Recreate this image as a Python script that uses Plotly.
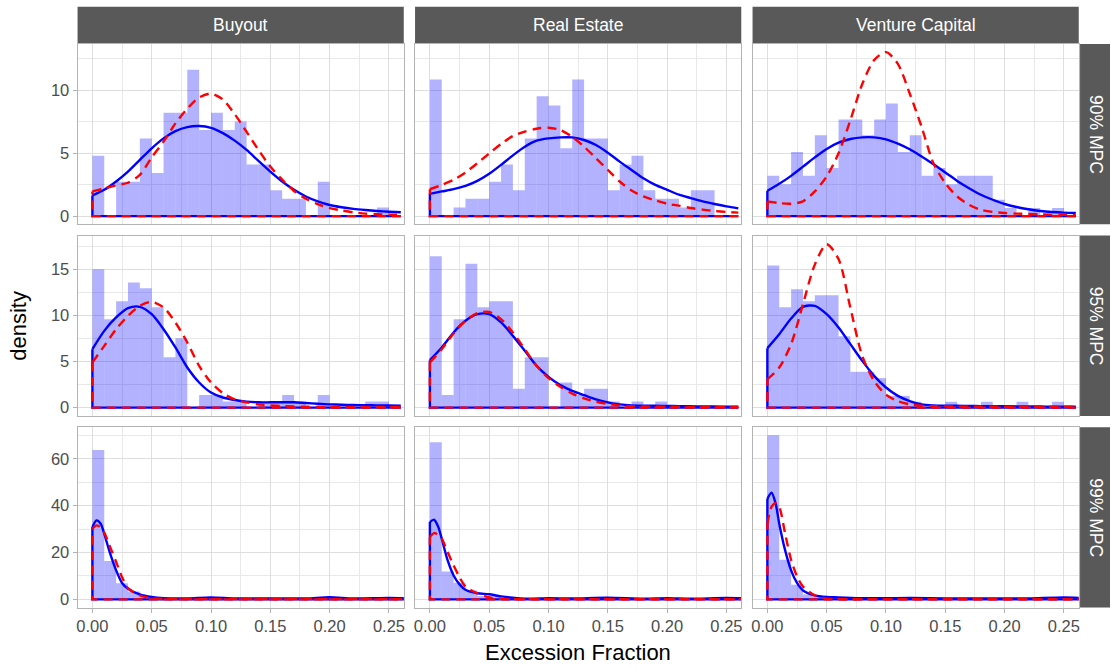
import plotly.graph_objects as go

# ---------------- data ----------------
funds = ["Buyout", "Real Estate", "Venture Capital"]
levels = ["90% MPC", "95% MPC", "99% MPC"]
bin_width = 0.01
bin_centers = [0.005 + 0.01 * i for i in range(25)]

x_tick_vals = [0.0, 0.05, 0.10, 0.15, 0.20, 0.25]
x_tick_text = ["0.00", "0.05", "0.10", "0.15", "0.20", "0.25"]
y_tick_vals = [[0, 5, 10], [0, 5, 10, 15], [0, 20, 40, 60]]
y_ranges = [[-0.65, 13.69], [-0.89, 18.65], [-3.5, 73.5]]
y_minor = [2.5, 2.5, 10]

# histogram densities (bins of width 0.01 starting at 0)
hist_buyout_90 = [4.8, 0, 2.74, 2.74, 6.16, 3.42, 8.22, 8.22, 11.64, 6.85, 8.22, 6.85, 7.53,
                  4.11, 4.11, 2.05, 1.37, 1.37, 0, 2.74, 0, 0, 0, 0, 0.68]
hist_realestate_90 = [10.86, 0, 0.68, 1.37, 1.37, 2.74, 4.11, 2.05, 6.16, 9.53, 8.8, 5.4, 10.86,
                      6.16, 6.16, 2.05, 4.11, 4.8, 2.05, 1.37, 1.37, 0.68, 2.05, 2.05, 0]
hist_vc_90 = [3.2, 2.54, 5.1, 3.2, 6.42, 3.83, 7.69, 7.69, 6.42, 7.69, 8.95, 5.1, 6.42,
              3.2, 3.83, 2.54, 3.2, 3.2, 3.2, 1.3, 0.64, 0, 0.64, 0, 0.64]
hist_buyout_95 = [15.0, 9.59, 11.54, 13.56, 12.95, 10.89, 5.47, 7.53, 0, 1.37, 1.37, 0.68, 0.68,
                  0, 0.68, 0.68, 1.37, 0.68, 0, 1.37, 0, 0, 0, 0.68, 0.68]
hist_realestate_95 = [16.4, 1.37, 9.59, 15.6, 10.89, 11.54, 11.54, 2.05, 5.47, 5.47, 0, 2.74, 1.37,
                      2.05, 2.05, 0.68, 0, 0.68, 0, 0.68, 0, 0, 0, 0, 0]
hist_vc_95 = [15.4, 10.89, 12.84, 11.54, 12.19, 12.19, 7.75, 3.88, 3.88, 3.2, 1.28, 1.28, 0.64,
              0, 0, 0.64, 0, 0, 0.64, 0, 0, 0.64, 0, 0, 0.64]
hist_buyout_99 = [63.8, 16.4, 6.85, 3.4, 1.37, 0.68, 0, 0, 0.68, 0.68, 0.68, 0, 0,
                  0, 0.68, 0, 0, 0, 0, 0.68, 0, 0, 0, 0, 0.68]
hist_realestate_99 = [67.1, 11.9, 7.1, 3.8, 1.4, 1.4, 0.68, 0, 0, 0, 0.68, 0, 0,
                      0, 0.68, 0, 0, 0, 0, 0.68, 0, 0, 0, 0, 0.68]
hist_vc_99 = [70.0, 16.9, 6.3, 2.1, 1.3, 0.64, 0.64, 0, 0, 0.64, 0, 0, 0,
              0, 0.64, 0, 0, 0, 0, 0, 0, 0, 0, 0, 0.64]

# density curves
grid_a = [0.00, 0.01, 0.02, 0.03, 0.04, 0.05, 0.06, 0.07, 0.08, 0.09, 0.10, 0.11, 0.12, 0.13,
          0.14, 0.15, 0.16, 0.17, 0.18, 0.19, 0.20, 0.21, 0.22, 0.23, 0.24, 0.25, 0.26]
grid_b = [0.0, 0.0035, 0.007, 0.01, 0.015, 0.02, 0.025, 0.03, 0.04, 0.05, 0.06, 0.08, 0.10,
          0.12, 0.15, 0.18, 0.20, 0.22, 0.25, 0.27]

blue_buyout_90 = [1.64, 2.09, 2.75, 3.54, 4.47, 5.39, 6.18, 6.76, 7.08, 7.16, 7.02, 6.6, 6.0, 5.26,
                  4.39, 3.54, 2.75, 2.09, 1.56, 1.17, 0.88, 0.70, 0.57, 0.48, 0.41, 0.35, 0.30]
red_buyout_90 = [1.96, 2.2, 2.45, 2.65, 3.28, 4.67, 5.92, 7.37, 8.55, 9.43, 9.74, 9.27, 8.1, 6.7,
                 5.26, 3.94, 2.9, 2.0, 1.38, 0.95, 0.64, 0.45, 0.3, 0.2, 0.15, 0.12, 0.1]
blue_realestate_90 = [1.77, 1.96, 2.14, 2.4, 2.8, 3.36, 4.07, 4.83, 5.52, 6.0, 6.18, 6.26, 6.26, 6.05,
                      5.65, 5.04, 4.33, 3.67, 3.01, 2.48, 2.09, 1.7, 1.43, 1.17, 0.96, 0.77, 0.61]
red_realestate_90 = [2.14, 2.48, 2.88, 3.47, 4.2, 4.99, 5.73, 6.37, 6.71, 6.95, 7.03, 6.84, 6.3, 5.52,
                     4.6, 3.67, 2.75, 2.03, 1.56, 1.25, 0.98, 0.83, 0.64, 0.51, 0.41, 0.33, 0.28]
blue_vc_90 = [2.01, 2.57, 3.2, 3.93, 4.67, 5.34, 5.84, 6.13, 6.26, 6.26, 6.1, 5.76, 5.31, 4.73,
              4.12, 3.47, 2.8, 2.22, 1.7, 1.3, 0.96, 0.72, 0.54, 0.41, 0.33, 0.28, 0.25]
red_vc_90 = [1.17, 1.03, 0.98, 1.17, 1.96, 3.15, 4.99, 7.63, 10.5, 12.4, 13.04, 12.1, 9.75, 7.1,
             4.2, 2.62, 1.56, 0.9, 0.5, 0.33, 0.25, 0.2, 0.17, 0.14, 0.12, 0.1, 0.07]

blue_buyout_95 = [6.34, 8.32, 9.77, 10.78, 10.93, 10.13, 8.5, 6.52, 4.35, 2.73, 1.64, 1.1, 0.83, 0.65,
                  0.58, 0.58, 0.58, 0.58, 0.5, 0.43, 0.36, 0.32, 0.29, 0.27, 0.25, 0.23, 0.22]
red_buyout_95 = [4.9, 6.7, 8.5, 9.95, 11.03, 11.47, 10.86, 9.23, 7.06, 4.53, 2.73, 1.57, 0.9, 0.58,
                 0.36, 0.25, 0.18, 0.14, 0.1, 0.08, 0.07, 0.07, 0.07, 0.07, 0.07, 0.07, 0.07]
blue_realestate_95 = [5.15, 6.52, 8.15, 9.41, 10.13, 10.13, 9.23, 7.78, 6.16, 4.53, 3.34, 2.44, 1.82, 1.35,
                      0.9, 0.58, 0.36, 0.25, 0.22, 0.2, 0.18, 0.17, 0.15, 0.13, 0.12, 0.11, 0.1]
red_realestate_95 = [4.9, 6.34, 8.04, 9.41, 10.24, 10.38, 9.59, 8.15, 6.34, 4.53, 3.2, 2.26, 1.53, 1.0,
                     0.65, 0.4, 0.25, 0.15, 0.12, 0.1, 0.1, 0.09, 0.08, 0.08, 0.07, 0.07, 0.07]
blue_vc_95 = [6.45, 7.96, 9.66, 10.92, 11.03, 10.13, 8.68, 6.88, 5.07, 3.45, 2.19, 1.28, 0.72, 0.36,
              0.25, 0.22, 0.22, 0.18, 0.17, 0.16, 0.15, 0.14, 0.13, 0.12, 0.11, 0.1, 0.1]
red_vc_95 = [3.09, 4.35, 6.88, 11.2, 15.5, 17.7, 16.1, 10.8, 5.6, 2.9, 1.4, 0.7, 0.36, 0.2,
             0.16, 0.14, 0.12, 0.11, 0.1, 0.1, 0.1, 0.1, 0.1, 0.1, 0.1, 0.1, 0.1]

blue_buyout_99 = [30.9, 33.7, 32.3, 28.0, 19.5, 12.4, 7.0, 4.56, 2.1, 1.0, 0.5, 0.4, 0.85,
                  0.4, 0.4, 0.4, 0.9, 0.4, 0.6, 0.4]
red_buyout_99 = [30.1, 31.6, 30.8, 28.5, 22.3, 16.0, 9.5, 4.8, 1.66, 0.5, 0.15, 0.1, 0.1,
                 0.1, 0.1, 0.1, 0.1, 0.1, 0.1, 0.1]
blue_realestate_99 = [33.0, 34.0, 31.0, 25.9, 16.6, 10.2, 6.4, 4.1, 2.6, 2.2, 1.3, 0.3, 0.5,
                      0.4, 0.7, 0.3, 0.5, 0.3, 0.6, 0.4]
red_realestate_99 = [26.6, 28.3, 27.5, 25.9, 20.2, 14.5, 9.5, 5.5, 2.6, 0.8, 0.2, 0.1, 0.1,
                     0.1, 0.1, 0.1, 0.1, 0.1, 0.1, 0.1]
blue_vc_99 = [42.9, 45.5, 40.8, 32.3, 20.9, 12.4, 7.0, 3.8, 1.7, 1.0, 0.85, 0.5, 0.5,
              0.6, 0.4, 0.4, 0.4, 0.4, 0.85, 0.5]
red_vc_99 = [32.3, 39.5, 41.1, 39.5, 28.0, 16.9, 9.8, 5.5, 1.7, 0.3, 0.1, 0.1, 0.1,
             0.1, 0.1, 0.1, 0.1, 0.1, 0.1, 0.1]

hists = [[hist_buyout_90, hist_realestate_90, hist_vc_90],
         [hist_buyout_95, hist_realestate_95, hist_vc_95],
         [hist_buyout_99, hist_realestate_99, hist_vc_99]]
blues = [[blue_buyout_90, blue_realestate_90, blue_vc_90],
         [blue_buyout_95, blue_realestate_95, blue_vc_95],
         [blue_buyout_99, blue_realestate_99, blue_vc_99]]
reds = [[red_buyout_90, red_realestate_90, red_vc_90],
        [red_buyout_95, red_realestate_95, red_vc_95],
        [red_buyout_99, red_realestate_99, red_vc_99]]
grids = [grid_a, grid_a, grid_b]

# ---------------- layout geometry (pixels) ----------------
W, H = 1111, 669
col_px = [(76.7, 403.5), (414.8, 741.6), (752.9, 1079.7)]
row_px = [(44.0, 224.6), (235.9, 416.5), (427.8, 608.5)]
strip_top = (6.7, 43.3)
strip_right = (1081.0, 1111.0)


def px_x(v):
    return v / W


def px_y(v):
    return 1 - v / H


FONT = "Liberation Sans, Arial, sans-serif"
GRID = "#DEDEDE"
MINOR = "#E8E8E8"
BORDER = "#B3B3B3"
STRIP = "#595959"
TICK_SIZE = 16.5
STRIP_SIZE = 17.5
TITLE_SIZE = 22

fig = go.Figure()
layout = dict(
    width=W, height=H,
    margin=dict(l=0, r=0, t=0, b=0),
    paper_bgcolor="white", plot_bgcolor="white",
    showlegend=False, barmode="overlay",
    font=dict(family=FONT, color="#4D4D4D", size=TICK_SIZE),
)

shapes = []
annotations = []

for r in range(3):
    for c in range(3):
        k = r * 3 + c + 1
        xa = "x" if k == 1 else f"x{k}"
        ya = "y" if k == 1 else f"y{k}"
        # histogram
        fig.add_trace(go.Bar(
            x=bin_centers, y=hists[r][c], width=bin_width,
            marker=dict(color="rgba(0,0,255,0.3)", line=dict(width=0)),
            xaxis=xa, yaxis=ya, hoverinfo="skip"))
        g = grids[r]
        for ys, col, dash in [(blues[r][c], "#0000FF", "solid"), (reds[r][c], "#FF0000", "9px,6px")]:
            # outline: baseline and left edge
            fig.add_trace(go.Scatter(
                x=[g[-1], g[0], g[0]], y=[0, 0, ys[0]], mode="lines",
                line=dict(color=col, width=2.4, dash=dash),
                xaxis=xa, yaxis=ya, hoverinfo="skip"))
            fig.add_trace(go.Scatter(
                x=g, y=ys, mode="lines",
                line=dict(color=col, width=2.4, dash=dash, shape="spline", smoothing=0.8),
                xaxis=xa, yaxis=ya, hoverinfo="skip"))

        x0, x1 = col_px[c]
        y0, y1 = row_px[r]
        xkey = "xaxis" if k == 1 else f"xaxis{k}"
        ykey = "yaxis" if k == 1 else f"yaxis{k}"
        layout[xkey] = dict(
            domain=[px_x(x0), px_x(x1)], anchor=ya, range=[-0.0125, 0.2625],
            tickvals=x_tick_vals, ticktext=x_tick_text,
            showticklabels=(r == 2), ticks="outside" if r == 2 else "",
            ticklen=4, tickcolor=BORDER, tickwidth=1,
            showgrid=True, gridcolor=GRID, gridwidth=1,
            minor=dict(dtick=0.025, tick0=0, showgrid=True, gridcolor=MINOR, gridwidth=0.8),
            showline=True, mirror=True, linecolor=BORDER, linewidth=1,
            zeroline=False, fixedrange=True,
            tickfont=dict(family=FONT, size=TICK_SIZE, color="#4D4D4D"),
        )
        layout[ykey] = dict(
            domain=[px_y(y1), px_y(y0)], anchor=xa, range=y_ranges[r],
            tickvals=y_tick_vals[r], ticktext=[str(v) for v in y_tick_vals[r]],
            showticklabels=(c == 0), ticks="outside" if c == 0 else "",
            ticklen=4, tickcolor=BORDER, tickwidth=1,
            showgrid=True, gridcolor=GRID, gridwidth=1,
            minor=dict(dtick=y_minor[r], tick0=0, showgrid=True, gridcolor=MINOR, gridwidth=0.8),
            showline=True, mirror=True, linecolor=BORDER, linewidth=1,
            zeroline=False, fixedrange=True,
            tickfont=dict(family=FONT, size=TICK_SIZE, color="#4D4D4D"),
        )

# strips: top (funds)
for c, name in enumerate(funds):
    x0, x1 = col_px[c]
    shapes.append(dict(type="rect", xref="paper", yref="paper",
                       x0=px_x(x0), x1=px_x(x1), y0=px_y(strip_top[1]), y1=px_y(strip_top[0]),
                       fillcolor=STRIP, line=dict(width=0), layer="below"))
    annotations.append(dict(xref="paper", yref="paper", x=px_x((x0 + x1) / 2),
                            y=px_y((strip_top[0] + strip_top[1]) / 2), text=name,
                            showarrow=False, font=dict(family=FONT, size=STRIP_SIZE, color="white"),
                            xanchor="center", yanchor="middle"))
# strips: right (levels)
for r, name in enumerate(levels):
    y0, y1 = row_px[r]
    shapes.append(dict(type="rect", xref="paper", yref="paper",
                       x0=px_x(strip_right[0]), x1=px_x(strip_right[1]), y0=px_y(y1), y1=px_y(y0),
                       fillcolor=STRIP, line=dict(width=0), layer="below"))
    annotations.append(dict(xref="paper", yref="paper", x=px_x(1097.0),
                            y=px_y((y0 + y1) / 2), text=name, textangle=90,
                            showarrow=False, font=dict(family=FONT, size=STRIP_SIZE, color="white"),
                            xanchor="center", yanchor="middle"))

# axis titles
annotations.append(dict(xref="paper", yref="paper", x=px_x((col_px[0][0] + col_px[2][1]) / 2),
                        y=px_y(653), text="Excession Fraction", showarrow=False,
                        font=dict(family=FONT, size=TITLE_SIZE, color="black"),
                        xanchor="center", yanchor="middle"))
annotations.append(dict(xref="paper", yref="paper", x=px_x(18),
                        y=px_y((row_px[0][0] + row_px[2][1]) / 2), text="density", textangle=-90,
                        showarrow=False, font=dict(family=FONT, size=TITLE_SIZE, color="black"),
                        xanchor="center", yanchor="middle"))

layout["shapes"] = shapes
layout["annotations"] = annotations
fig.update_layout(**layout)
fig.write_html(
    "out.html",
    config={"displayModeBar": False},
    post_script="document.body.style.margin='0';document.body.style.padding='0';"
                "document.body.style.overflow='hidden';",
)
